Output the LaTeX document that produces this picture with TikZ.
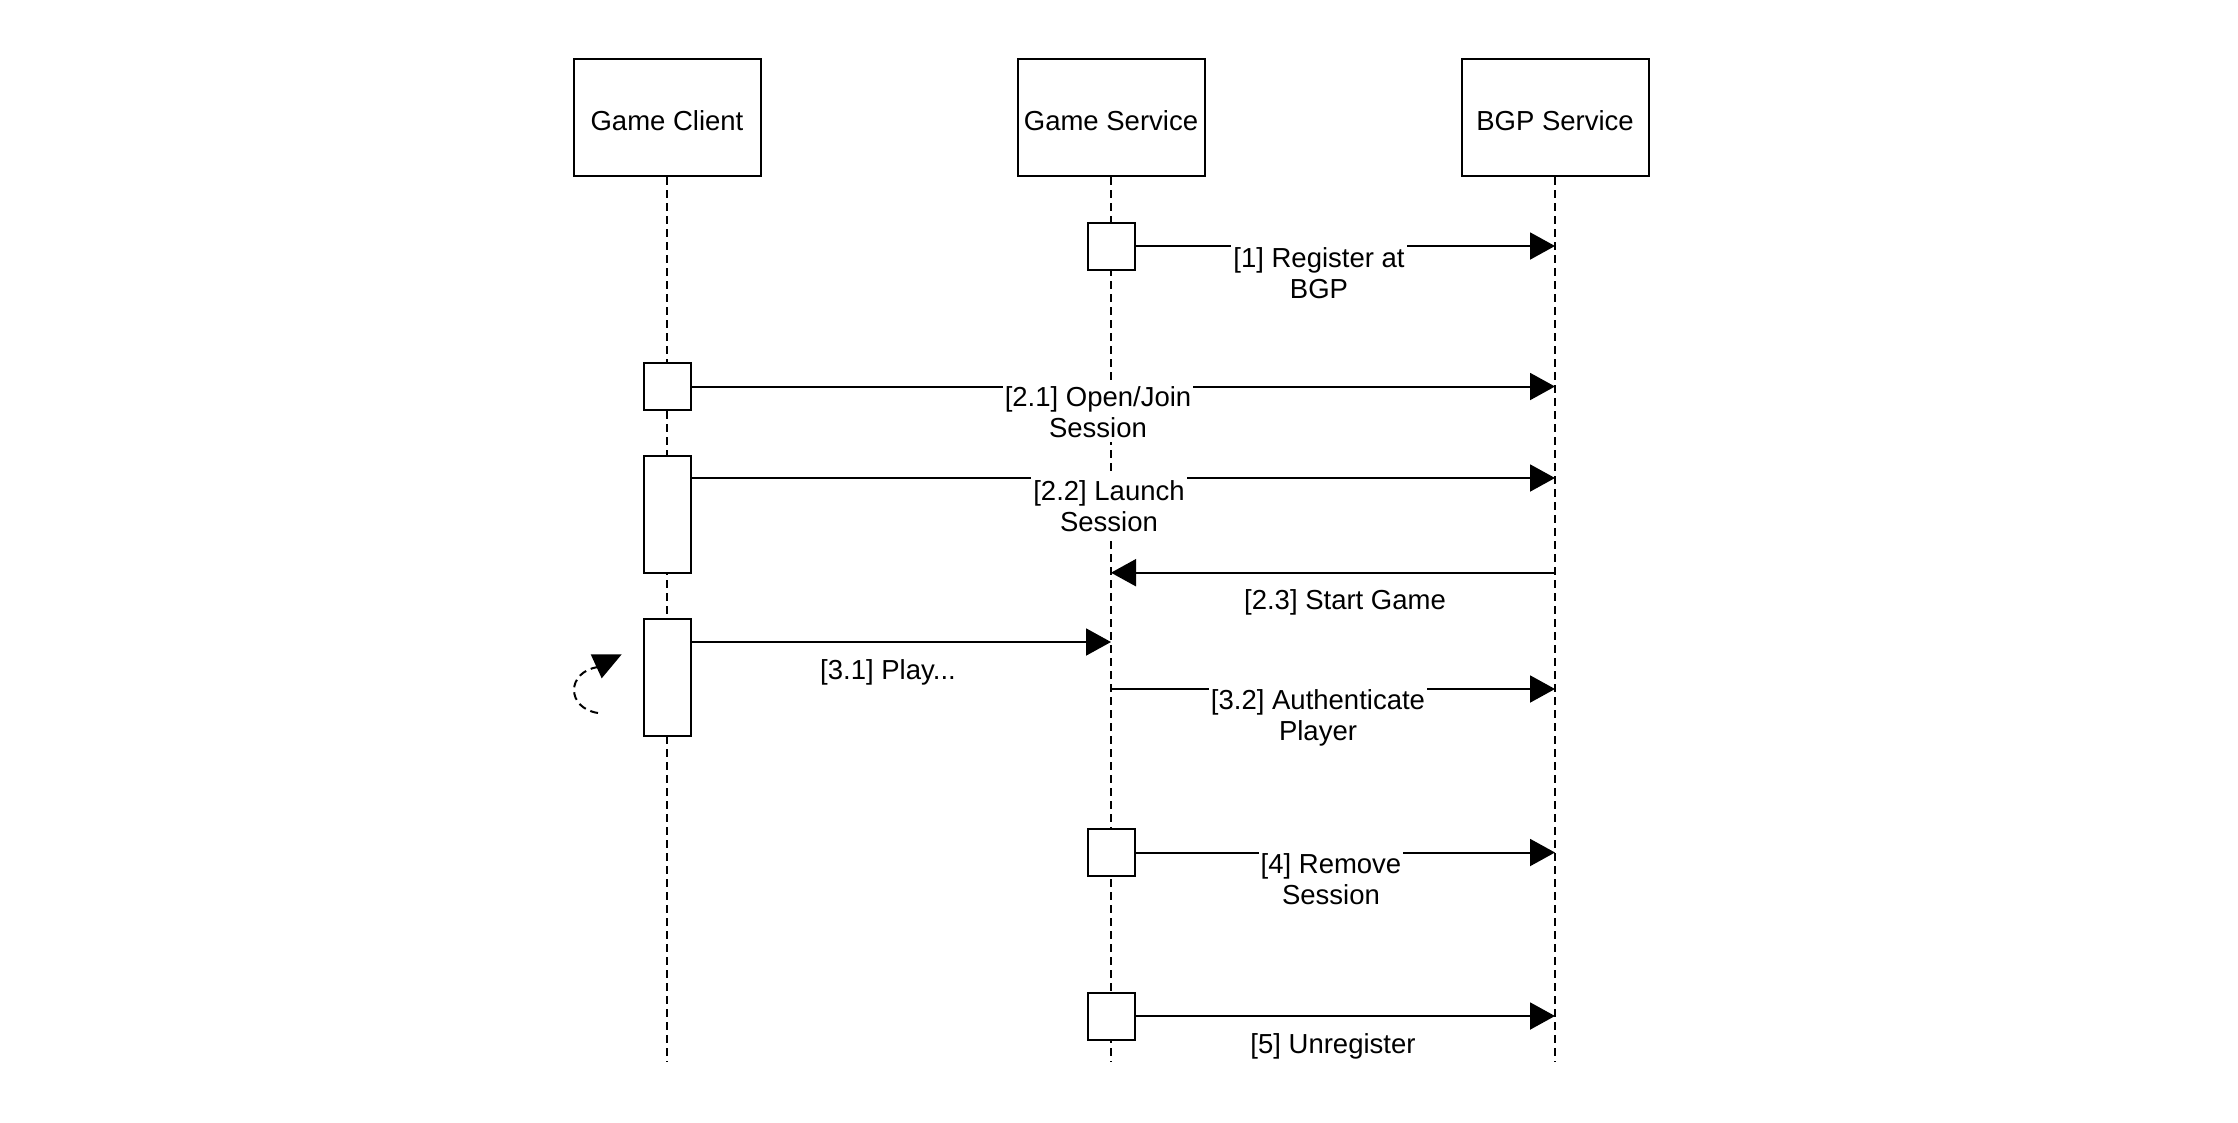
\documentclass[tikz,border=0pt]{standalone}
\usepackage{fontspec}
\setmainfont{Liberation Sans}
\usetikzlibrary{arrows.meta}
\begin{document}
\begin{tikzpicture}[x=1pt,y=-1pt,
  every node/.style={font=\fontsize{27.5}{31.5}\selectfont},
  head/.style={draw, line width=2pt, fill=white, minimum width=187pt, minimum height=117pt, inner sep=0pt, text height=25pt, text depth=0pt},
  act/.style={draw, line width=2pt, fill=white, minimum width=47pt, inner sep=0pt},
  life/.style={line width=2pt, dash pattern=on 8pt off 5pt},
  msg/.style={line width=2pt, -{Triangle[length=25pt,width=27pt]}},
  lbl/.style={fill=white, inner xsep=2pt, inner ysep=4pt, align=center, anchor=north},
  lblone/.style={inner sep=0pt, anchor=base}]
\fill[white] (0,0) rectangle (2238,1122);
\useasboundingbox (0,0) rectangle (2238,1122);

% lifeline heads
\node[head] (gc) at (667,117.5) {Game Client};
\node[head] (gs) at (1111,117.5) {Game Service};
\node[head] (bgp) at (1555,117.5) {BGP Service};

% lifelines
\coordinate (gcEnd) at (667,1062);
\coordinate (gsEnd) at (1111,1062);
\coordinate (bgpEnd) at (1555,1062);
\draw[life] (gc.south) -- (gcEnd);
\draw[life] (gs.south) -- (gsEnd);
\draw[life] (bgp.south) -- (bgpEnd);

% activation boxes
\node[act, minimum height=47pt] (a1) at (1111,246) {};
\node[act, minimum height=47pt] (a21) at (667,386.5) {};
\node[act, minimum height=117pt] (a22) at (667,514.5) {};
\node[act, minimum height=117pt] (a31) at (667,677.5) {};
\node[act, minimum height=47pt] (a4) at (1111,852.5) {};
\node[act, minimum height=47pt] (a5) at (1111,1016) {};

% messages
\draw[msg] (a1.east) -- (a1.east -| bgp);
\draw[msg] (a21.east) -- (a21.east -| bgp);
\coordinate (s22) at ([yshift=-23pt]a22.north east);
\draw[msg] (s22) -- (s22 -| bgp);
\coordinate (s23) at (1555,572.7);
\draw[msg] (s23) -- (s23 -| gs);
\coordinate (s31) at ([yshift=-24pt]a31.north east);
\draw[msg] (s31) -- (s31 -| gs);
\coordinate (s32) at (1111,689);
\draw[msg] (s32) -- (s32 -| bgp);
\draw[msg] (a4.east) -- (a4.east -| bgp);
\draw[msg] (a5.east) -- (a5.east -| bgp);

% labels
\node[lbl] (l1) at (1319,243) {[1] Register at\\BGP};
\node[lbl] (l21) at (1098,382) {[2.1] Open/Join\\Session};
\node[lbl] (l22) at (1109,476) {[2.2] Launch\\Session};
\node[lblone] (l23) at (1345,609) {[2.3] Start Game};
\node[lblone] (l31) at (888,679) {[3.1] Play...};
\node[lbl] (l32) at (1318,685) {[3.2] Authenticate\\Player};
\node[lbl] (l4) at (1331,849) {[4] Remove\\Session};
\node[lblone] (l5) at (1333,1053) {[5] Unregister};

% self-call hint
\coordinate (sa) at (598,713);
\coordinate (sb) at (598,667);
\draw[line width=2pt, dash pattern=on 8pt off 5pt] (sa) .. controls (566,708) and (566,672) .. (sb);
\fill (590.7,654.3) -- (621.7,654.3) -- (601.7,678.3) -- cycle;
\end{tikzpicture}
\end{document}
